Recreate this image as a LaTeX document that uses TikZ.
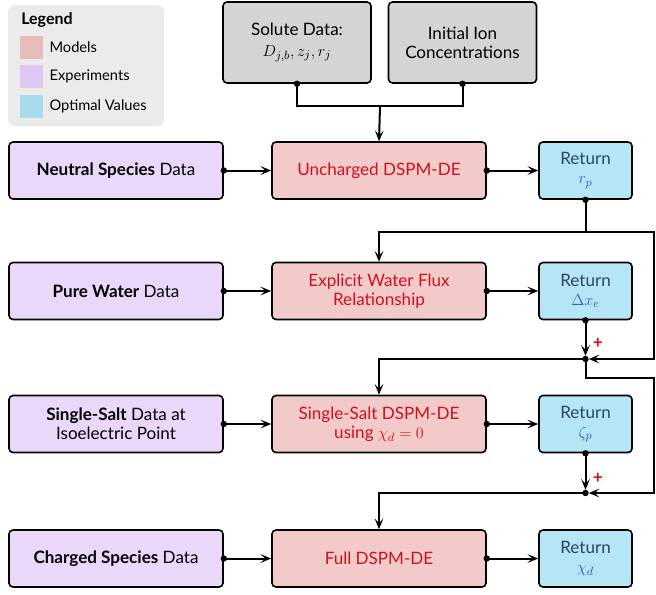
\documentclass[tikz,border=0pt]{standalone}
\usepackage{fontspec}
\setmainfont{Lato}
\usetikzlibrary{arrows.meta}
\definecolor{modelfill}{HTML}{F2CACA}
\definecolor{modeltext}{HTML}{D0101E}
\definecolor{exptfill}{HTML}{EAD8FB}
\definecolor{retfill}{HTML}{B4E6F6}
\definecolor{rettext}{HTML}{2E4560}
\definecolor{retmath}{HTML}{2F62BA}
\definecolor{datafill}{HTML}{D4D4D4}
\definecolor{legendbg}{HTML}{EBEBEB}
\definecolor{modelsw}{HTML}{E5BBBB}
\definecolor{exptsw}{HTML}{DEC8F3}
\definecolor{retsw}{HTML}{A8DCEC}
\begin{document}
\begin{tikzpicture}[x=0.75pt, y=-0.75pt, font=\fontsize{12.8}{14.5}\selectfont,
	box/.style={draw, line width=1.2pt, rounded corners=3pt, align=center, inner sep=2pt},
	data/.style={box, fill=datafill, minimum width=111pt, minimum height=60.75pt},
	expt/.style={box, fill=exptfill, minimum width=160.5pt, minimum height=42.75pt},
	model/.style={box, fill=modelfill, text=modeltext, minimum width=160.5pt, minimum height=42.75pt},
	ret/.style={box, fill=retfill, text=rettext, minimum width=69.75pt, minimum height=42.75pt},
	swatch/.style={minimum size=17.25pt, inner sep=0pt},
	swlabel/.style={right, inner sep=4.5pt, font=\fontsize{11}{12}\selectfont},
	line/.style={line width=1.5pt},
	arr/.style={line, -{Stealth[length=8pt, width=6.5pt, inset=3.5pt]}},
	dot/.style={fill, radius=2.4pt},
	plus/.style={text=modeltext, font=\fontsize{13}{13}\selectfont\bfseries, inner sep=0pt}]
	\useasboundingbox (0,0) rectangle (656,594);
	% legend
	\node[fill=legendbg, rounded corners=5pt, minimum width=117pt, minimum height=90.75pt] (legend) at (86,65.5) {};
	\node[anchor=west, inner sep=0pt, font=\fontsize{12}{12}\selectfont\bfseries] (legtitle) at (21,20) {Legend};
	\node[swatch, fill=modelsw] (sw1) at (31.5,47) {};
	\node[swatch, fill=exptsw] (sw2) at (31.5,76) {};
	\node[swatch, fill=retsw] (sw3) at (31.5,106) {};
	\node[swlabel] at (sw1.east) {Models};
	\node[swlabel] at (sw2.east) {Experiments};
	\node[swlabel] at (sw3.east) {Optimal Values};
	% inputs
	\node[data] (solute) at (297,42.5) {Solute Data:\\[1pt] $D_{j,b}, z_j, r_j$};
	\node[data] (ion) at (462.5,42.5) {Initial Ion\\Concentrations};
	% rows
	\node[expt] (e1) at (116,170.5) {\textbf{Neutral Species} Data};
	\node[model] (m1) at (379,170.5) {Uncharged DSPM-DE};
	\node[ret] (r1) at (585.5,170.5) {Return\\\textcolor{retmath}{$r_p$}};
	\node[expt] (e2) at (116,291) {\textbf{Pure Water} Data};
	\node[model] (m2) at (379,291) {Explicit Water Flux\\Relationship};
	\node[ret] (r2) at (585.5,291) {Return\\\textcolor{retmath}{$\Delta x_e$}};
	\node[expt] (e3) at (116,424) {\textbf{Single-Salt} Data at\\Isoelectric Point};
	\node[model] (m3) at (379,424) {Single-Salt DSPM-DE\\using $\chi_d = 0$};
	\node[ret] (r3) at (585.5,424) {Return\\\textcolor{retmath}{$\zeta_p$}};
	\node[expt] (e4) at (116,558.5) {\textbf{Charged Species} Data};
	\node[model] (m4) at (379,558.5) {Full DSPM-DE};
	\node[ret] (r4) at (585.5,558.5) {Return\\\textcolor{retmath}{$\chi_d$}};
	% junctions
	\coordinate (top) at (380,106);
	\coordinate (k1) at (585.5,232);
	\coordinate (k1l) at (379,232);
	\coordinate (k1r) at (654,232);
	\coordinate (k2r) at (654,359);
	\coordinate (j1) at (585.5,359);
	\coordinate (j1d) at (585.5,378);
	\coordinate (k3r) at (654,378);
	\coordinate (k4r) at (654,493);
	\coordinate (j2) at (585.5,493);
	% connectors
	\draw[line] (solute.south) |- (top) -| (ion.south);
	\draw[arr] (top) -- (m1.north);
	\draw[arr] (e1.east) -- (m1.west);
	\draw[arr] (m1.east) -- (r1.west);
	\draw[arr] (r1.south) |- (k1l) -- (m2.north);
	\draw[arr, shorten >=2.4pt] (k1) -- (k1r) -- (k2r) -- (j1);
	\draw[arr] (e2.east) -- (m2.west);
	\draw[arr] (m2.east) -- (r2.west);
	\draw[arr, shorten >=2.4pt] (r2.south) -- (j1);
	\draw[arr] (j1) -| (m3.north);
	\draw[arr, shorten >=2.4pt] (j1) -- (j1d) -- (k3r) -- (k4r) -- (j2);
	\draw[arr] (e3.east) -- (m3.west);
	\draw[arr] (m3.east) -- (r3.west);
	\draw[arr, shorten >=2.4pt] (r3.south) -- (j2);
	\draw[arr] (j2) -| (m4.north);
	\draw[arr] (e4.east) -- (m4.west);
	\draw[arr] (m4.east) -- (r4.west);
	\node[plus] at (598,343) {+};
	\node[plus] at (598,478) {+};
	% dots
	\foreach \p in {solute.south, ion.south, e1.east, m1.east, r1.south, e2.east, m2.east, r2.south, j1, e3.east, m3.east, r3.south, j2, e4.east, m4.east}
		\fill[dot] (\p) circle;
\end{tikzpicture}
\end{document}
